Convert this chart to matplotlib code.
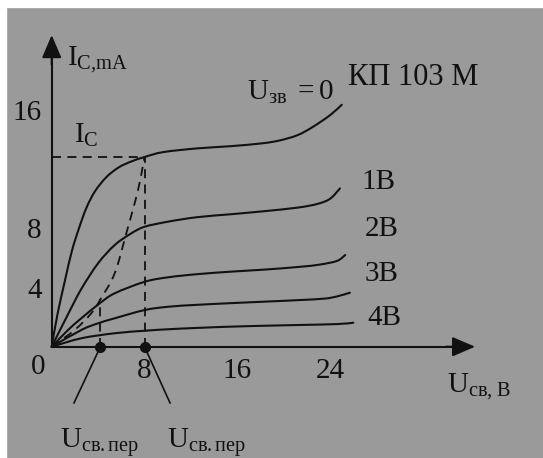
import matplotlib.pyplot as plt
from matplotlib.patches import Rectangle, PathPatch
from matplotlib.path import Path

plt.rcParams['font.family'] = ['Liberation Serif', 'DejaVu Serif']
plt.rcParams['mathtext.fontset'] = 'custom'
plt.rcParams['mathtext.rm'] = 'Liberation Serif'
plt.rcParams['mathtext.it'] = 'Liberation Serif:italic'

BG = '#9a9a9a'
INK = '#111111'

# output characteristics of KP103M, drain current (mA) vs drain-source voltage (V)
u_g0 = [0, 0.5, 1.15, 1.75, 2.35, 3.0, 3.73, 4.7, 5.74, 6.8, 8.0, 9.6, 12.5, 15.4, 18.2, 19.7, 21.2, 22.5, 24.0, 25.0]
i_g0 = [0, 2.2, 4.5, 6.5, 8.0, 9.4, 10.5, 11.45, 12.1, 12.5, 12.82, 13.15, 13.4, 13.55, 13.75, 13.95, 14.3, 14.85, 15.65, 16.35]

u_g1 = [0, 1.41, 2.55, 3.99, 5.43, 6.86, 8.02, 10.03, 12.5, 15.4, 18.2, 21.2, 22.9, 24.0, 24.85]
i_g1 = [0, 2.2, 3.9, 5.63, 6.87, 7.66, 8.11, 8.45, 8.75, 8.95, 9.15, 9.4, 9.65, 10.0, 10.7]

u_g2 = [0, 1.41, 2.55, 4.14, 5.43, 8.02, 10.03, 12.5, 15.6, 18.5, 21.4, 23.1, 24.6, 25.3]
i_g2 = [0, 1.13, 1.92, 2.93, 3.61, 4.39, 4.69, 4.9, 5.08, 5.22, 5.4, 5.55, 5.8, 6.2]

u_g3 = [0, 2.55, 3.99, 5.43, 8.02, 10.03, 12.5, 15.6, 18.5, 21.3, 23.5, 24.6, 25.7]
i_g3 = [0, 1.13, 1.58, 1.92, 2.48, 2.7, 2.83, 2.95, 3.05, 3.15, 3.25, 3.4, 3.65]

u_g4 = [0, 2.55, 5.43, 8.02, 10.03, 12.5, 15.6, 18.5, 21.4, 24.6, 26.0]
i_g4 = [0, 0.57, 0.91, 1.08, 1.18, 1.27, 1.36, 1.42, 1.47, 1.53, 1.62]

curves_u = [u_g0, u_g1, u_g2, u_g3, u_g4]
curves_i = [i_g0, i_g1, i_g2, i_g3, i_g4]

# saturation boundary (dashed) and the marked points on it
sat_u = [0, 1.98, 3.41, 4.2, 5.43, 6.43, 7.44, 8.0]
sat_i = [0, 1.13, 2.26, 3.2, 4.96, 7.66, 10.59, 12.82]
u_sat0 = 8.0
i_sat0 = 12.82
u_sat4 = 4.2
i_sat4 = 3.2

x_ticks = [8, 16, 24]
y_ticks = [4, 8, 16]
gate_labels = ['1В', '2В', '3В', '4В']


def smooth_path(xs, ys):
    # Catmull-Rom through the points, written as cubic Bezier segments
    pts = list(zip(xs, ys))
    verts = [pts[0]]
    codes = [Path.MOVETO]
    n = len(pts)
    for k in range(n - 1):
        p0 = pts[max(k - 1, 0)]
        p1 = pts[k]
        p2 = pts[k + 1]
        p3 = pts[min(k + 2, n - 1)]
        c1 = (p1[0] + (p2[0] - p0[0]) / 6, p1[1] + (p2[1] - p0[1]) / 6)
        c2 = (p2[0] - (p3[0] - p1[0]) / 6, p2[1] - (p3[1] - p1[1]) / 6)
        verts += [c1, c2, p2]
        codes += [Path.CURVE4] * 3
    return Path(verts, codes)


fig = plt.figure(figsize=(5.43, 4.58), dpi=100, facecolor=BG)
fig.patches.append(Rectangle((0, 0), 6 / 543, 1, transform=fig.transFigure, color='white', zorder=0))
fig.patches.append(Rectangle((0, 1 - 7 / 458), 1, 7 / 458, transform=fig.transFigure, color='white', zorder=0))

ax = fig.add_axes([0, 0, 1, 1])
ax.set_facecolor('none')
ax.set_xlim(-4.457, 42.35)
ax.set_ylim(-7.52, 23.43)

x_end = 36.5
y_end = 21.06
for side in ['top', 'right']:
    ax.spines[side].set_visible(False)
ax.spines['left'].set_position(('data', 0))
ax.spines['bottom'].set_position(('data', 0))
ax.spines['left'].set_bounds(0, y_end - 1)
ax.spines['bottom'].set_bounds(0, x_end - 1)
for side in ['left', 'bottom']:
    ax.spines[side].set_linewidth(1.5)
    ax.spines[side].set_color(INK)

ax.set_xticks(x_ticks)
ax.set_yticks(y_ticks)
ax.tick_params(length=0, labelsize=21, colors=INK)
ax.tick_params(axis='x', pad=8)
ax.tick_params(axis='y', pad=7)

arrow = dict(arrowstyle='-|>,head_length=14,head_width=6', mutation_scale=1,
             color=INK, lw=1.5, shrinkA=0, shrinkB=0)
ax.annotate('', xy=(0, y_end), xytext=(0, y_end - 2), arrowprops=arrow, annotation_clip=False)
ax.annotate('', xy=(x_end, 0), xytext=(x_end - 2.5, 0), arrowprops=arrow, annotation_clip=False)

for u, i in zip(curves_u, curves_i):
    ax.add_patch(PathPatch(smooth_path(u, i), fill=False, edgecolor=INK, lw=1.5, capstyle='round'))

ax.add_patch(PathPatch(smooth_path(sat_u, sat_i), fill=False, edgecolor=INK, lw=1.3, linestyle=(0, (5, 3.5))))
dash = dict(color=INK, lw=1.3, dashes=(5, 3.5))
ax.plot([0, u_sat0], [i_sat0, i_sat0], **dash)
ax.plot([u_sat0, u_sat0], [0, i_sat0], **dash)
ax.plot([u_sat4, u_sat4], [0, i_sat4], **dash)
ax.plot([u_sat4, u_sat0], [0, 0], 'o', color=INK, ms=7, clip_on=False)

# leader lines to the saturation voltage labels
ax.plot([u_sat4, 1.92], [0, -3.8], color=INK, lw=1.2, clip_on=False)
ax.plot([u_sat0, 10.2], [0, -3.8], color=INK, lw=1.2, clip_on=False)

txt = dict(color=INK, fontsize=21)
ax.text(-1.18, -1.37, '0', ha='center', va='center', **txt)
ax.text(1.32, 19.03, r'$\mathrm{I}_{\mathrm{C{,}mA}}$', ha='left', va='baseline', **txt)
ax.text(1.92, 13.76, r'$\mathrm{I}_{\mathrm{C}}$', ha='left', va='baseline', **txt)
ax.text(34.08, -3.06, r'$\mathrm{U}_{\mathrm{св{,}\ В}}$', ha='left', va='baseline', **txt)
ax.text(0.72, -6.86, r'$\mathrm{U}_{\mathrm{св.пер}}$', ha='left', va='baseline', **txt)
ax.text(9.94, -6.86, r'$\mathrm{U}_{\mathrm{св.пер}}$', ha='left', va='baseline', **txt)
ax.text(16.84, 16.67, r'$\mathrm{U}_{\mathrm{зв}}\ \mathrm{=0}$', ha='left', va='baseline', **txt)
ax.text(25.54, 17.68, 'КП 103 М', ha='left', va='baseline', color=INK, fontsize=22)

label_pos = [(28.13, 11.13), (28.47, 7.95), (28.47, 4.91), (28.65, 1.94)]
for lab, (x, y) in zip(gate_labels, label_pos):
    ax.text(x, y, lab, ha='center', va='center', **txt)

fig.savefig('out.png', dpi=100, facecolor=BG)
